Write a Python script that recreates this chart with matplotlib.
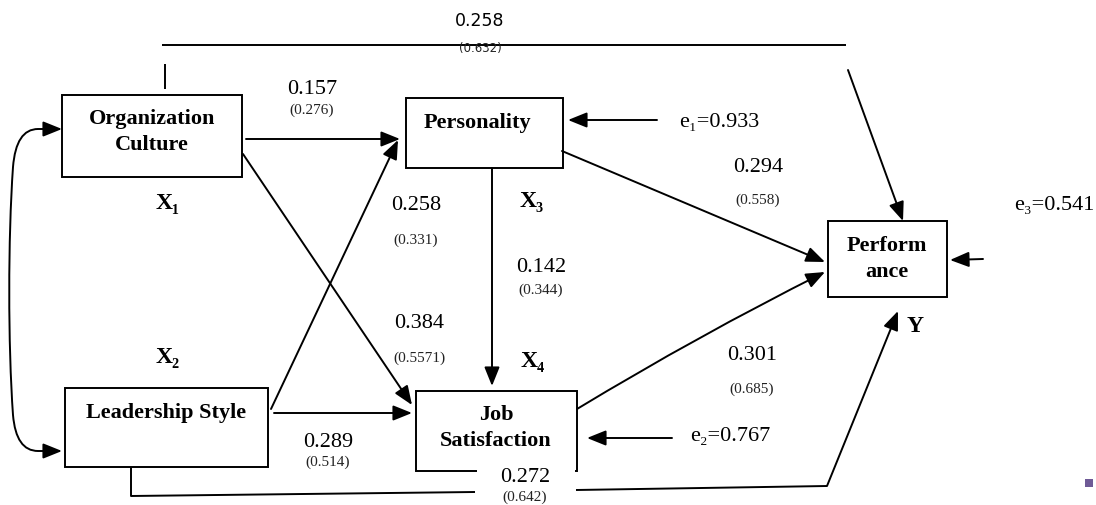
import matplotlib
matplotlib.use("Agg")
import matplotlib.pyplot as plt
from matplotlib.patches import Rectangle, FancyArrowPatch
from matplotlib.path import Path

# ---- data ----
node_names = ["Organization\nCulture", "Personality", "Leadership Style", "Job\nSatisfaction", "Perform\nance"]
node_ids = ["X\u2081", "X\u2083", "X\u2082", "X\u2084", "Y"]
path_labels = ["OC->PERF", "OC->PER", "LS->PER", "PER->JS", "OC->JS", "LS->JS", "PER->PERF", "JS->PERF", "LS->PERF"]
path_coef = [0.258, 0.157, 0.258, 0.142, 0.384, 0.289, 0.294, 0.301, 0.272]
path_sig = ["0.632", "0.276", "0.331", "0.344", "0.5571", "0.514", "0.558", "0.685", "0.642"]
error_names = ["e\u2081", "e\u2082", "e\u2083"]
error_vals = [0.933, 0.767, 0.541]

W, H = 1096, 506
fig = plt.figure(figsize=(W / 100, H / 100), dpi=100)
ax = fig.add_axes([0, 0, 1, 1])
ax.set_xlim(0, W)
ax.set_ylim(H, 0)
ax.axis("off")

SERIF = "Liberation Serif"
SANS = "DejaVu Sans"
lw = 1.4
AST = "-|>,head_length=0.72,head_width=0.29"

# boxes: (x0, y0, x1, y1)
boxes = [(62, 96, 242, 178), (406, 99, 563, 169), (65, 389, 268, 468), (416, 392, 577, 472), (828, 222, 947, 298)]
text_xy = [(152, 132), (477, 123), (166, 413), (496, 428), (887, 259)]
for (x0, y0, x1, y1), name, (tx, ty) in zip(boxes, node_names, text_xy):
    ax.add_patch(Rectangle((x0, y0), x1 - x0, y1 - y0, fill=False, lw=lw, ec="black", zorder=2))
    ax.text(tx, ty, name, ha="center", va="center", fontsize=16, fontweight="bold",
            family=SERIF, linespacing=1.4)

# id labels
id_pos = [(168, 203), (532, 202), (168, 357), (533, 362), (915, 327)]
for (x, y), t in zip(id_pos, node_ids):
    ax.text(x, y, t, ha="center", va="center", fontsize=17, fontweight="bold", family=SERIF)


def arrow(p0, p1, ms=16, cs="arc3,rad=0"):
    ax.add_patch(FancyArrowPatch(p0, p1, arrowstyle=AST, mutation_scale=ms, lw=lw, color="black",
                                 shrinkA=0, shrinkB=0, zorder=3, connectionstyle=cs))


def line(xs, ys):
    ax.plot(xs, ys, color="black", lw=lw, solid_capstyle="butt", zorder=1)


# top path OC -> Performance
line([162, 846], [46, 46])
line([165, 165], [65, 90])
arrow((848, 71), (903, 222))
# OC -> Personality
arrow((246, 140), (400, 140))
# OC -> Job Satisfaction
arrow((243, 155), (412, 406))
# Leadership -> Personality
arrow((271, 410), (398, 141))
# Leadership -> Job Satisfaction
arrow((274, 414), (412, 414))
# Personality -> Job Satisfaction
arrow((492, 169), (492, 387))
# Personality -> Performance
arrow((562, 152), (825, 263))
# Job Satisfaction -> Performance
arrow((577, 410), (825, 273), cs="arc3,rad=-0.02")
# Leadership -> Performance (bottom)
line([131, 131, 475], [468, 497, 493])
line([576, 827], [491, 487])
arrow((827, 487), (898, 312))

# error arrows
arrow((657, 121), (568, 121))
arrow((672, 439), (587, 439))
arrow((983, 260), (950, 261))

# double-headed curved covariance arrow
verts = [(62, 130), (38, 130), (16, 130), (13, 168),
         (8, 240), (8, 345), (13, 416),
         (16, 452), (38, 452), (62, 452)]
codes = [Path.MOVETO, Path.LINETO, Path.CURVE3, Path.CURVE3,
         Path.CURVE4, Path.CURVE4, Path.CURVE4,
         Path.CURVE3, Path.CURVE3, Path.LINETO]
ax.add_patch(FancyArrowPatch(path=Path(verts, codes), arrowstyle="<|-|>,head_length=0.72,head_width=0.29",
                             mutation_scale=16, lw=lw, color="black", shrinkA=0, shrinkB=0, zorder=3))

# white gap where the bottom label crosses the box edge and line
ax.add_patch(Rectangle((477, 470), 98, 34, fc="white", ec="none", zorder=3))

# coefficient labels: (x, y_coef, y_sig, family, size, size_sig)
lab_pos = [(480, 21, 48, SANS, 12.5, 8.5),
           (312, 89, 110, SERIF, 16, 11),
           (416, 205, 240, SERIF, 16, 11),
           (541, 268, 290, SERIF, 16, 11),
           (419, 324, 358, SERIF, 16, 11),
           (328, 443, 462, SERIF, 16, 11),
           (758, 167, 200, SERIF, 16, 11),
           (752, 355, 389, SERIF, 16, 11),
           (525, 478, 497, SERIF, 16, 11)]
for (x, yc, ys, fam, s1, s2), c, s in zip(lab_pos, path_coef, path_sig):
    ax.text(x, yc, f"{c:.3f}", ha="center", va="center", fontsize=s1, family=fam, zorder=4)
    ax.text(x, ys, f"({s})", ha="center", va="center", fontsize=s2, family=fam, color="#222222", zorder=4)

# error labels
err_pos = [(719, 122), (730, 437), (1054, 205)]
for (x, y), n, v in zip(err_pos, error_names, error_vals):
    ax.text(x, y, f"{n}={v:.3f}", ha="center", va="center", fontsize=16, family=SERIF)

# small purple mark
ax.add_patch(Rectangle((1085, 480), 8, 8, fc="#6f5a96", ec="none"))

fig.savefig("out.png", dpi=100)
